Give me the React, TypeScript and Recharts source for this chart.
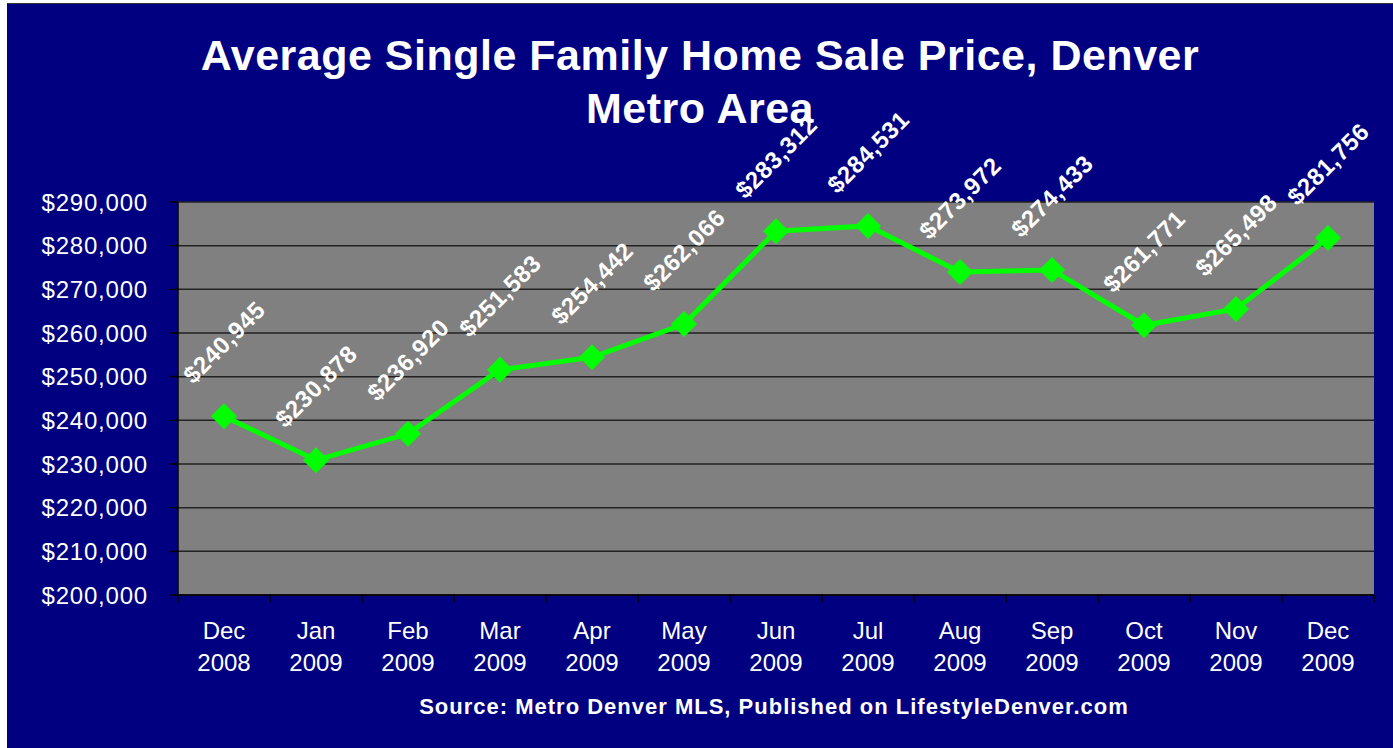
import { LineChart, Line, XAxis, YAxis, CartesianGrid, LabelList } from 'recharts';

const months = ['Dec', 'Jan', 'Feb', 'Mar', 'Apr', 'May', 'Jun', 'Jul', 'Aug', 'Sep', 'Oct', 'Nov', 'Dec'];
const years = ['2008', '2009', '2009', '2009', '2009', '2009', '2009', '2009', '2009', '2009', '2009', '2009', '2009'];
const prices = [240945, 230878, 236920, 251583, 254442, 262066, 283312, 284531, 273972, 274433, 261771, 265498, 281756];
const yTicks = [200000, 210000, 220000, 230000, 240000, 250000, 260000, 270000, 280000, 290000];

const data = prices.map((price, i) => ({
  label: `${months[i]} ${years[i]}`,
  month: months[i],
  year: years[i],
  price,
}));

const FONT = 'Arial, "Liberation Sans", sans-serif';
const HALF_BAND = 46;

const money = (v: number) => '$' + v.toLocaleString('en-US');

function MonthTick(props: any) {
  const { x, y, index } = props;
  const d = data[index];
  const last = index === data.length - 1;
  return (
    <g>
      <line x1={x - HALF_BAND} x2={x - HALF_BAND} y1={y - 8} y2={y} stroke="#000" strokeWidth={1.5} />
      {last && <line x1={x + HALF_BAND} x2={x + HALF_BAND} y1={y - 8} y2={y} stroke="#000" strokeWidth={1.5} />}
      <text x={x} y={y + 36} textAnchor="middle" fill="#fff" fontSize={24} fontFamily={FONT}>{d.month}</text>
      <text x={x} y={y + 68} textAnchor="middle" fill="#fff" fontSize={24} fontFamily={FONT}>{d.year}</text>
    </g>
  );
}

function Diamond(props: any) {
  const { cx, cy } = props;
  if (cx == null || cy == null) return null;
  const r = 13;
  return <polygon points={`${cx},${cy - r} ${cx + r},${cy} ${cx},${cy + r} ${cx - r},${cy}`} fill="#00ff00" />;
}

function PriceLabel(props: any) {
  const { x, y, value } = props;
  const ly = y - 74;
  return (
    <text
      x={x}
      y={ly}
      transform={`rotate(-45, ${x}, ${ly})`}
      textAnchor="middle"
      dominantBaseline="central"
      fill="#fff"
      fontSize={24}
      fontWeight="bold"
      letterSpacing={0.5}
      fontFamily={FONT}
    >
      {money(value)}
    </text>
  );
}

export default function App() {
  return (
    <div style={{ position: 'relative', width: 1393, height: 748, background: '#fff', overflow: 'hidden' }}>
      <style>{`body { margin: 0; }`}</style>
      <div
        style={{
          position: 'absolute',
          left: 7,
          top: 3,
          width: 1386,
          height: 745,
          background: '#000080',
          borderTop: '1px solid #333',
          boxSizing: 'border-box',
          fontFamily: FONT,
        }}
      >
        <div
          style={{
            position: 'absolute',
            left: 0,
            top: 25,
            width: 1386,
            textAlign: 'center',
            color: '#fff',
            fontSize: 43,
            fontWeight: 'bold',
            letterSpacing: 0.5,
            lineHeight: '53px',
          }}
        >
          Average Single Family Home Sale Price, Denver
          <br />
          Metro Area
        </div>
        <LineChart
          width={1386}
          height={745}
          data={data}
          margin={{ top: 199, right: 19, bottom: 53, left: 0 }}
          style={{ position: 'absolute', left: 0, top: -1 }}
        >
          <CartesianGrid vertical={false} fill="#808080" stroke="#222" strokeWidth={1.5} />
          <XAxis
            dataKey="label"
            interval={0}
            height={100}
            padding={{ left: HALF_BAND, right: HALF_BAND }}
            axisLine={{ stroke: '#000', strokeWidth: 1.5 }}
            tickLine={false}
            tickSize={8}
            tickMargin={0}
            tick={<MonthTick />}
          />
          <YAxis
            domain={[200000, 290000]}
            ticks={yTicks}
            width={171}
            tickFormatter={money}
            axisLine={{ stroke: '#000', strokeWidth: 1.5 }}
            tickLine={{ stroke: '#000', strokeWidth: 1.5 }}
            tickSize={8}
            tickMargin={22}
            tick={{ fill: '#fff', fontSize: 24, fontFamily: FONT, letterSpacing: 0.8 }}
          />
          <Line
            dataKey="price"
            stroke="#00ff00"
            strokeWidth={5}
            dot={<Diamond />}
            activeDot={false}
            isAnimationActive={false}
          >
            <LabelList dataKey="price" content={<PriceLabel />} />
          </Line>
        </LineChart>
        <div
          style={{
            position: 'absolute',
            left: 367,
            top: 692,
            width: 800,
            textAlign: 'center',
            color: '#fff',
            fontSize: 22,
            fontWeight: 'bold',
            letterSpacing: 1,
            lineHeight: '22px',
          }}
        >
          Source: Metro Denver MLS, Published on LifestyleDenver.com
        </div>
      </div>
    </div>
  );
}
